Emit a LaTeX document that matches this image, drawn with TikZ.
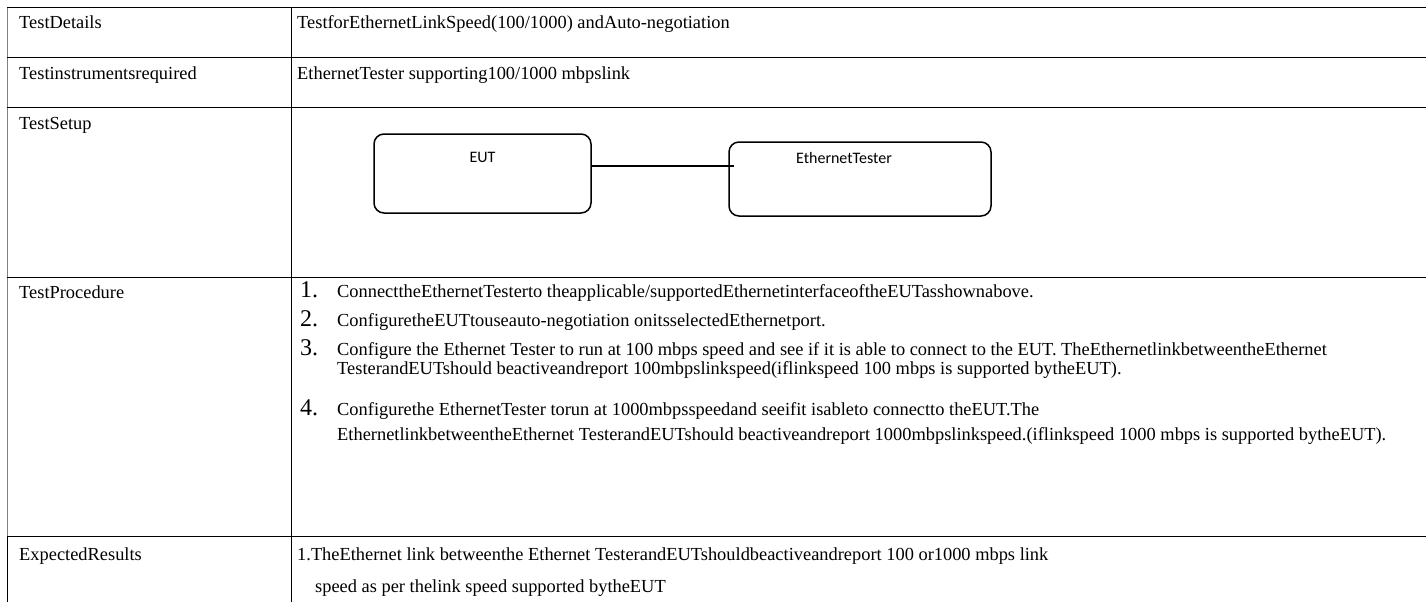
\documentclass[tikz,border=0pt]{standalone}
\usepackage{fontspec}
\setmainfont{Liberation Serif}
\newfontfamily\boxfont{Carlito}
\usetikzlibrary{positioning}

\begin{document}
\begin{tikzpicture}[
  x=1pt,y=-1pt,
  font=\fontsize{18.4}{21}\selectfont,
  rule/.style={line width=0.9pt},
  cell/.style={anchor=base west,inner sep=0pt},
  num/.style={cell,font=\fontsize{24}{26}\selectfont},
  unit/.style={draw,line width=1.5pt,rounded corners=10pt},
  unittxt/.style={inner sep=0pt,font=\boxfont\fontsize{16}{18}\selectfont},
  link/.style={line width=2pt}
]
\useasboundingbox (0,0) rectangle (1426,602);
% table rules
\draw[rule,gray] (7.5,7) -- (7.5,536);
\draw[rule] (7.5,536) -- (7.5,602);
\foreach \y in {7,57,107,277,536}
  \draw[rule] (7,\y) -- (1426,\y);
\draw[rule] (291,7) -- (291,602);

% left column
\node[cell] (hdet) at (19,29) {TestDetails};
\node[cell] (hins) at (19,79) {Testinstrumentsrequired};
\node[cell] (hset) at (19,129) {TestSetup};
\node[cell] (hproc) at (19,298) {TestProcedure};
\node[cell] (hres) at (19,560) {ExpectedResults};

% right column
\node[cell] (det) at (297,29) {TestforEthernetLinkSpeed(100/1000) andAuto-negotiation};
\node[cell] (ins) at (297,79) {EthernetTester supporting100/1000 mbpslink};

% setup
\node[unit,minimum width=217pt,minimum height=79pt] (eut) at (482.5,173.5) {};
\node[unit,minimum width=262pt,minimum height=74pt] (tester) at (860,179) {};
\node[unittxt,below=19pt of eut.north] (eutlbl) {EUT};
\node[unittxt,below=11pt of tester.north,xshift=-16pt] (testerlbl) {EthernetTester};
\draw[link] ([yshift=7.5pt]eut.east) coordinate (l0) -- ([xshift=6pt]l0 -| tester.west);

% procedure
\node[num] (n1) at (300,297) {1.};
\node[num] (n2) at (300,326) {2.};
\node[num] (n3) at (300,355) {3.};
\node[num] (n4) at (300,415) {4.};
\node[cell] (s1) at (337,297) {ConnecttheEthernetTesterto theapplicable/supportedEthernetinterfaceoftheEUTasshownabove.};
\node[cell] (s2) at (337,326) {ConfiguretheEUTtouseauto-negotiation onitsselectedEthernetport.};
\node[cell] (s3a) at (337,355) {Configure the Ethernet Tester to run at 100 mbps speed and see if it is able to connect to the EUT. TheEthernetlinkbetweentheEthernet};
\node[cell] (s3b) at (337,374) {TesterandEUTshould beactiveandreport 100mbpslinkspeed(iflinkspeed 100 mbps is supported bytheEUT).};
\node[cell] (s4a) at (337,415) {Configurethe EthernetTester torun at 1000mbpsspeedand seeifit isableto connectto theEUT.The};
\node[cell] (s4b) at (337,440) {EthernetlinkbetweentheEthernet TesterandEUTshould beactiveandreport 1000mbpslinkspeed.(iflinkspeed 1000 mbps is supported bytheEUT).};

% expected results
\node[cell] (r1) at (297,560) {1.TheEthernet link betweenthe Ethernet TesterandEUTshouldbeactiveandreport 100 or1000 mbps link};
\node[cell] (r2) at (315,592) {speed as per thelink speed supported bytheEUT};
\end{tikzpicture}
\end{document}
